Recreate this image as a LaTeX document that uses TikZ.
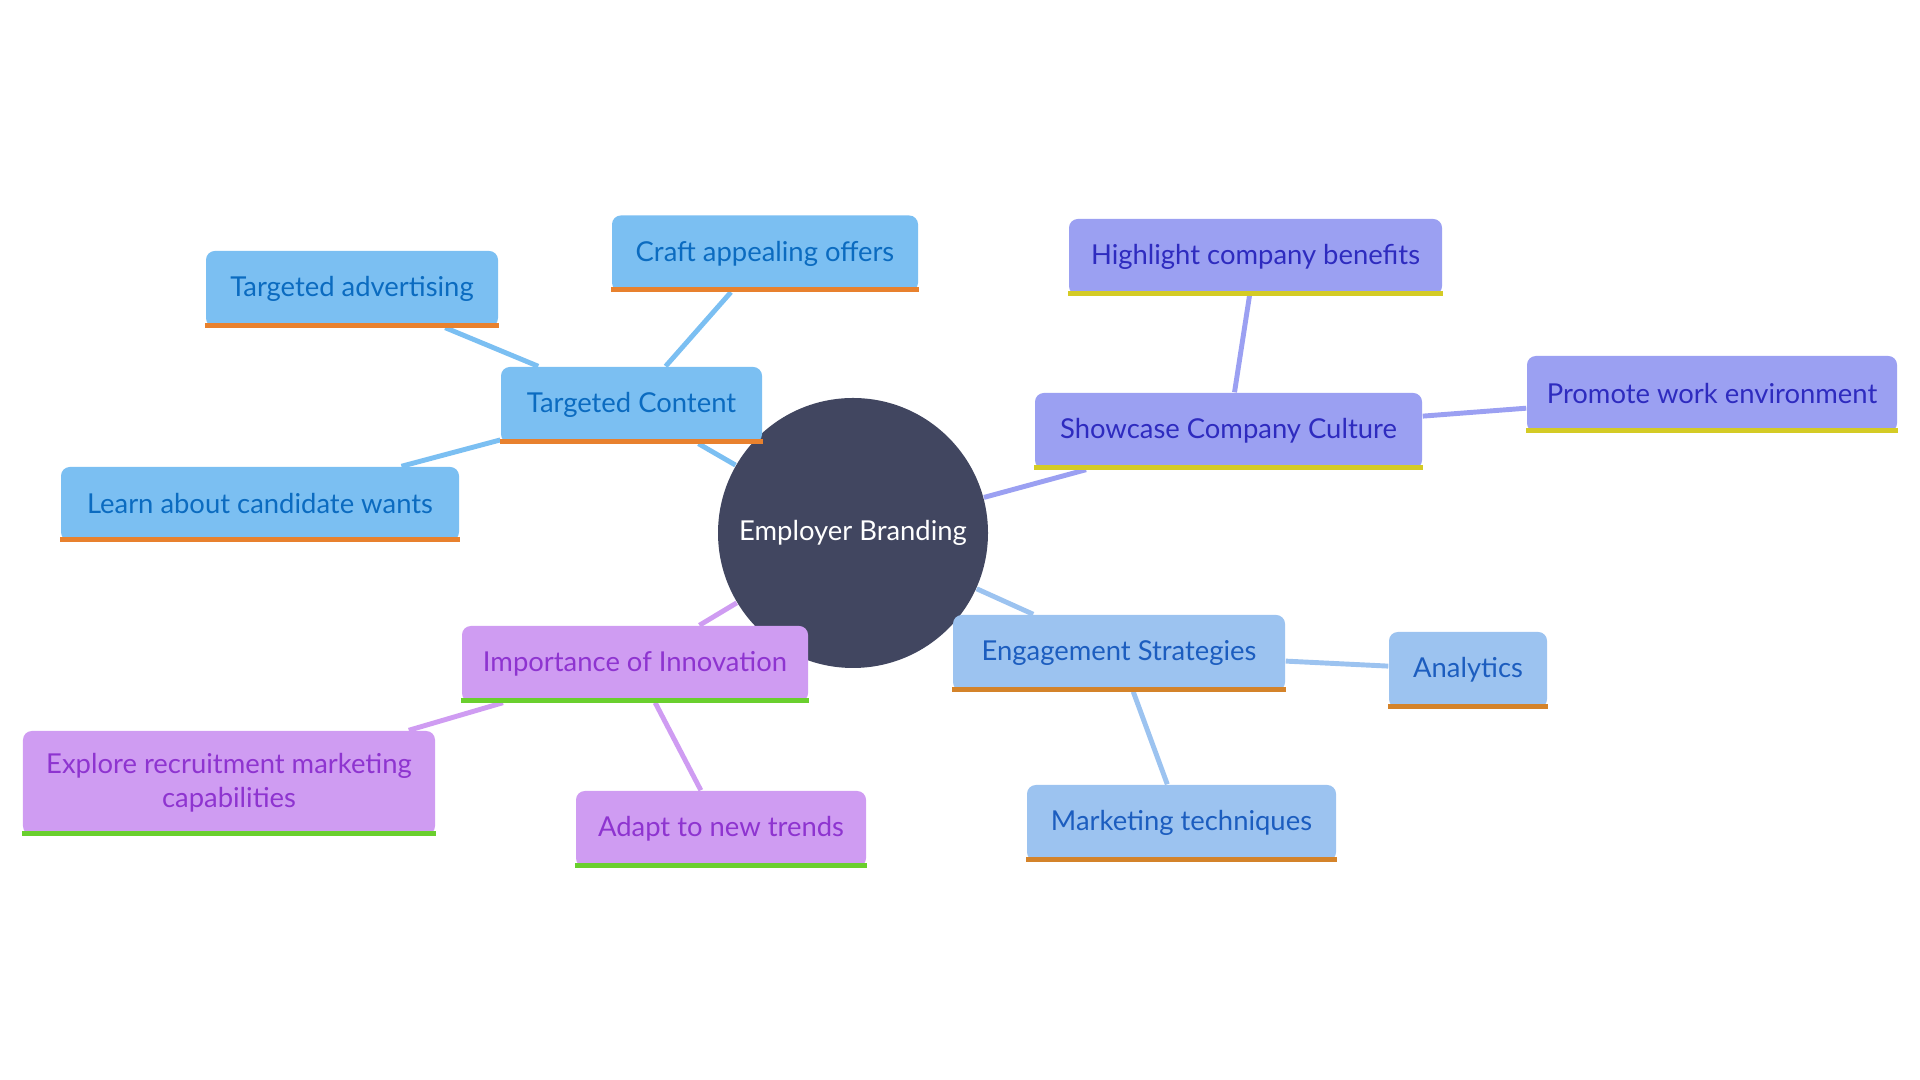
\documentclass[tikz,border=0pt]{standalone}
\usepackage{fontspec}
\setmainfont{Lato}
\usepackage{tikz}
\usetikzlibrary{backgrounds}
\definecolor{cnavy}{HTML}{414660}
\definecolor{cblue}{HTML}{7BBFF2}
\definecolor{cblueink}{HTML}{0B6BC0}
\definecolor{corange}{HTML}{E8812E}
\definecolor{cviolet}{HTML}{9BA0F2}
\definecolor{cvioletink}{HTML}{2E2BBF}
\definecolor{cmustard}{HTML}{D4CB25}
\definecolor{csky}{HTML}{9CC3F0}
\definecolor{cskyink}{HTML}{1C5DBF}
\definecolor{cochre}{HTML}{D4832A}
\definecolor{clilac}{HTML}{CF9CF2}
\definecolor{clilacink}{HTML}{8E34D0}
\definecolor{cgreen}{HTML}{6ACF2E}
\tikzset{
  topic/.style={rounded corners=2.5pt,inner sep=0pt,minimum height=0.76cm,align=center,font=\fontsize{7.8}{9.6}\selectfont},
  tblue/.style={topic,fill=cblue,text=cblueink},
  tviolet/.style={topic,fill=cviolet,text=cvioletink},
  tsky/.style={topic,fill=csky,text=cskyink},
  tlilac/.style={topic,fill=clilac,text=clilacink},
  link/.style={line width=1.4pt},
}

\begin{document}
\begin{tikzpicture}
\useasboundingbox (0,0) rectangle (19.2,10.8);

% ================= centre =================
\node[circle,fill=cnavy,text=white,minimum size=2.7cm,inner sep=0pt,font=\fontsize{7.8}{9.6}\selectfont] (eb) at (8.53,5.47) {Employer Branding};

% ================= Targeted Content =================
\node[tblue,minimum width=2.61cm] (tc) at (6.315,6.75) {Targeted Content};
\node[tblue,minimum width=2.92cm] (ta) at (3.52,7.91) {Targeted advertising};
\node[tblue,minimum width=3.06cm] (cao) at (7.65,8.265) {Craft appealing offers};
\node[tblue,minimum width=3.98cm,minimum height=0.74cm] (lcw) at (2.60,5.76) {Learn about candidate wants};

% ================= Showcase Company Culture =================
\node[tviolet,minimum width=3.87cm] (scc) at (12.285,6.49) {Showcase Company Culture};
\node[tviolet,minimum width=3.73cm] (hcb) at (12.555,8.23) {Highlight company benefits};
\node[tviolet,minimum width=3.70cm] (pwe) at (17.12,6.86) {Promote work environment};

% ================= Engagement Strategies =================
\node[tsky,minimum width=3.32cm] (es) at (11.19,4.27) {Engagement Strategies};
\node[tsky,minimum width=1.58cm] (an) at (14.68,4.10) {Analytics};
\node[tsky,minimum width=3.09cm] (mt) at (11.815,2.57) {Marketing techniques};

% ================= Importance of Innovation =================
\node[tlilac,minimum width=3.46cm] (ioi) at (6.35,4.16) {Importance of Innovation};
\node[tlilac,minimum width=4.12cm,minimum height=1.04cm] (erm) at (2.29,2.97) {Explore recruitment marketing\\capabilities};
\node[tlilac,minimum width=2.90cm] (atn) at (7.21,2.51) {Adapt to new trends};

% bottom bars
\foreach \n/\c in {tc/corange,ta/corange,cao/corange,lcw/corange,
                   scc/cmustard,hcb/cmustard,pwe/cmustard,
                   es/cochre,an/cochre,mt/cochre,
                   ioi/cgreen,erm/cgreen,atn/cgreen}
  \fill[\c] (\n.south west) rectangle ([yshift=0.05cm]\n.south east);

% ================= connectors =================
\begin{scope}[on background layer]
\foreach \a/\b in {eb/tc,tc/ta,tc/cao,tc/lcw}
  \draw[link,cblue] (\a) -- (\b);
\foreach \a/\b in {eb/scc,scc/hcb,scc/pwe}
  \draw[link,cviolet] (\a) -- (\b);
\foreach \a/\b in {eb/es,es/an,es/mt}
  \draw[link,csky] (\a) -- (\b);
\foreach \a/\b in {eb/ioi,ioi/erm,ioi/atn}
  \draw[link,clilac] (\a) -- (\b);
\end{scope}

\end{tikzpicture}
\end{document}
